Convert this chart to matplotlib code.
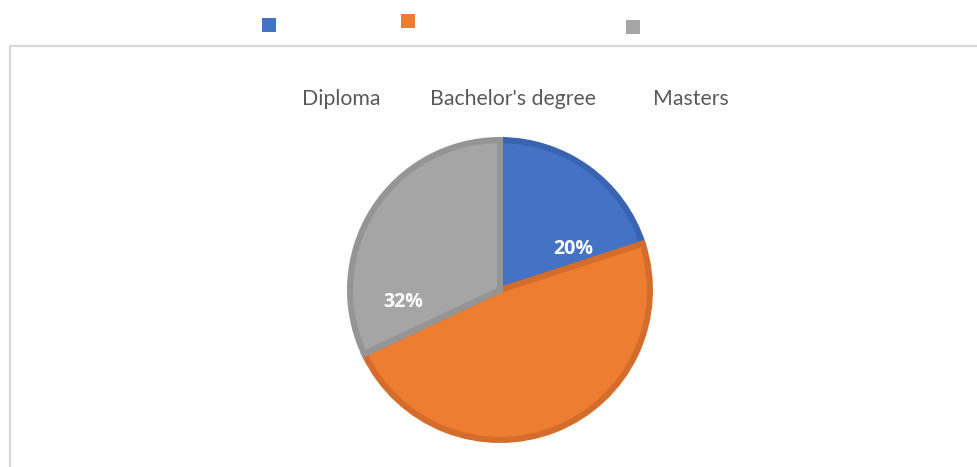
import matplotlib.pyplot as plt
from matplotlib.patches import Rectangle
from matplotlib.lines import Line2D

categories = ["Diploma", "Bachelor's degree", "Masters"]
shares = [20, 48, 32]
show_pct = [True, False, True]
face_colors = ["#4472C4", "#ED7D31", "#A5A5A5"]
edge_colors = ["#3A64B2", "#D46D2B", "#959595"]

W, H = 977, 467
fig = plt.figure(figsize=(W / 100, H / 100), dpi=100)
fig.patch.set_facecolor("white")

# chart frame (only top and left edges visible)
fig.add_artist(Line2D([10 / W, 10 / W, 1.0], [0.0, 1 - 46 / H, 1 - 46 / H],
                      transform=fig.transFigure, color="#d9d9d9", lw=1.6))

# legend squares at the top, labels further down
sq_x = [262, 401, 626]
sq_y = [18, 14, 20]
lab_x = [341, 513, 691]
for i, name in enumerate(categories):
    fig.add_artist(Rectangle((sq_x[i] / W, 1 - (sq_y[i] + 14) / H), 14 / W, 14 / H,
                             transform=fig.transFigure, color=face_colors[i], lw=0))
    fig.text(lab_x[i] / W, 1 - 99 / H, name, ha="center", va="center",
             fontsize=15.3, color="#595959", family="Lato")

# pie
cx, cy, r = 500, 290, 153
ax = fig.add_axes([(cx - r) / W, (H - cy - r) / H, 2 * r / W, 2 * r / H])

wedges, _ = ax.pie(shares, startangle=90, counterclock=False, radius=0.98,
                   colors=face_colors,
                   wedgeprops=dict(linewidth=4.4, joinstyle="miter"))
for w, ec in zip(wedges, edge_colors):
    w.set_edgecolor(ec)
    w.set_clip_on(False)
ax.set_xlim(-1, 1)
ax.set_ylim(-1, 1)
ax.set_aspect("equal")
ax.axis("off")

# percent labels (positions relative to the pie, in axes units)
label_pos = [(0.48, 0.27), (0.0, -0.5), (-0.63, -0.08)]
for s, show, (px, py) in zip(shares, show_pct, label_pos):
    if show:
        ax.text(px, py, f"{s}%", ha="center", va="center", color="white",
                fontsize=14, fontweight="bold", family="Open Sans")

fig.savefig("out.png", dpi=100)
